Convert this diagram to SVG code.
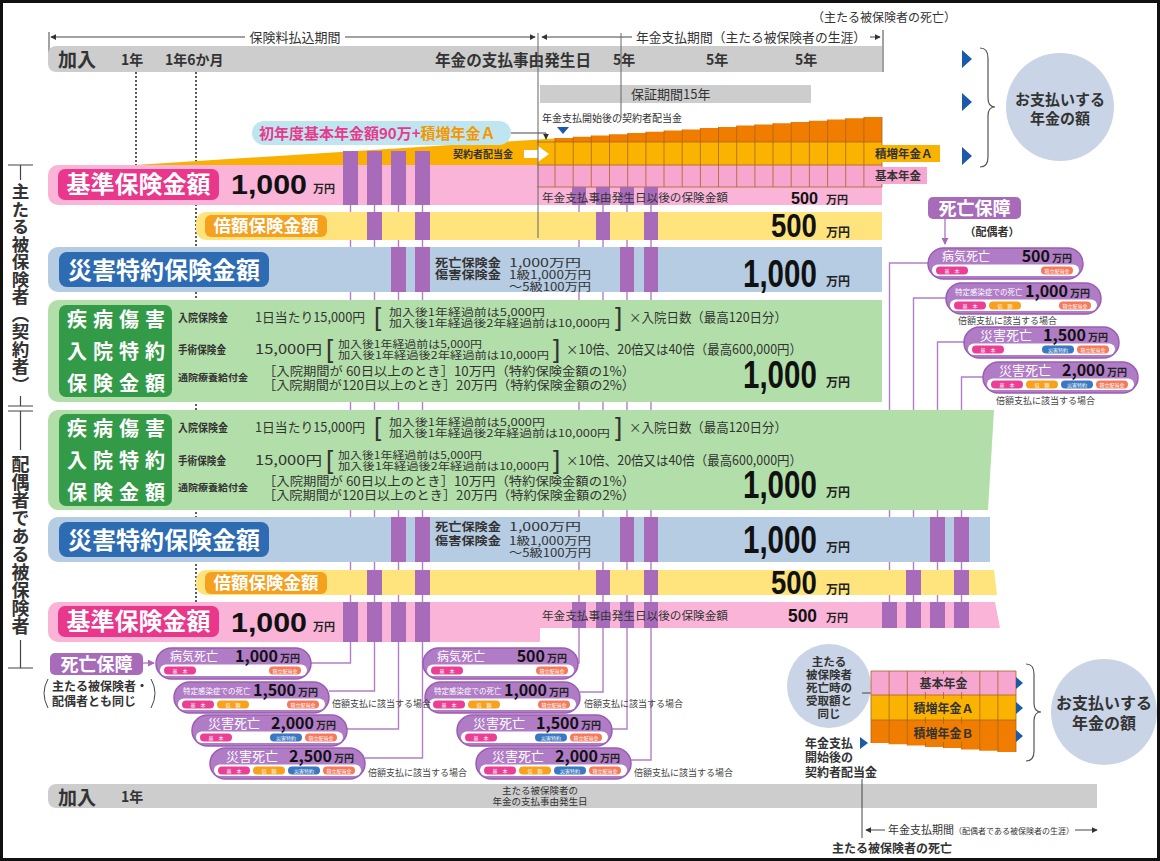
<svg xmlns="http://www.w3.org/2000/svg" width="1160" height="861" viewBox="0 0 1160 861">
<defs>
<style>
text{font-family:"Noto Sans CJK JP","Noto Sans",sans-serif;fill:#333}
.b{font-weight:700}
.w{fill:#fff}
.dim{stroke:#444;stroke-width:1;fill:none}
.dot{stroke:#333;stroke-width:1.6;stroke-dasharray:2 2;fill:none}
.cn{fill:none;stroke:#b27fc7;stroke-width:1.4}
.bar{fill:#a86bba}
.gray{fill:#cdcdcd}
.pinkrow{fill:#f9b4d8}
.yelrow{fill:#ffe47d}
.bluerow{fill:#b5cce3}
.grnrow{fill:#b2dfa9}
.tp{fill:#ea3f95}.to{fill:#f8a11c}.tb{fill:#3b78c2}.ts{fill:#f6795a}
.tt{font-size:5px;fill:#fff;text-anchor:middle}
.pl{font-size:12px;fill:#fff}
.pls{font-size:7.5px;fill:#fff}
.plb{font-size:13px;fill:#fff}
.amt{font-size:16px;font-weight:700;fill:#111;text-anchor:end}
.man{font-weight:700;fill:#222}
.note{font-size:9px;fill:#444}
.grid{stroke:#a8651f;stroke-width:0.8;fill:none}
.tri{fill:#1a5aa8}
.big{font-family:"Liberation Sans",Arial,sans-serif;font-weight:700;fill:#111}
.brk{font-family:"Liberation Sans",Arial,sans-serif;font-size:26px;fill:#333}
.circ{fill:#c9d4e6}
</style>
<marker id="ah" viewBox="0 0 8 8" refX="7" refY="4" markerWidth="6" markerHeight="6" orient="auto-start-reverse"><path d="M0,0 L8,4 L0,8 z" fill="#333"/></marker>
<marker id="ahp" viewBox="0 0 8 8" refX="7" refY="4" markerWidth="5" markerHeight="5" orient="auto"><path d="M0,0 L8,4 L0,8 z" fill="#a86bba"/></marker>
<g id="pill">
<rect x="0" y="0" width="155" height="31" rx="15.5" fill="#b07cc6" stroke="#9a5db2" stroke-width="1.5"/>
<rect x="4" y="16.5" width="147" height="11.5" rx="5.75" fill="#fff"/>
</g>
</defs>

<rect x="1.5" y="1.5" width="1157" height="858" fill="#fff" stroke="#111" stroke-width="3"/>

<!-- top timeline -->
<g id="timeline-top">
<text x="884" y="22" font-size="12" text-anchor="middle">（主たる被保険者の死亡）</text>
<path class="dim" d="M49,32 V62"/>
<path class="dim" d="M51,37 H245" marker-start="url(#ah)"/>
<path class="dim" d="M345,37 H535" marker-end="url(#ah)"/>
<text x="295" y="42" font-size="13" text-anchor="middle">保険料払込期間</text>
<path class="dim" d="M542,37 H632" marker-start="url(#ah)"/>
<path class="dim" d="M870,37 H880" marker-end="url(#ah)"/>
<text x="636" y="42" font-size="13" textLength="230" lengthAdjust="spacingAndGlyphs">年金支払期間（主たる被保険者の生涯）</text>
<path class="dim" d="M883,30 V72"/>
<path class="gray" d="M56,46 H882 V72 H56 A8,8 0 0 1 48,64 V54 A8,8 0 0 1 56,46 Z"/>
<text x="58" y="67" font-size="19" class="b">加入</text>
<text x="121" y="65" font-size="14" class="b">1年</text>
<text x="165" y="65" font-size="14" class="b">1年6か月</text>
<text x="435" y="66" font-size="15.5" class="b" textLength="156" lengthAdjust="spacingAndGlyphs">年金の支払事由発生日</text>
<text x="613" y="65" font-size="14" class="b">5年</text>
<text x="706" y="65" font-size="14" class="b">5年</text>
<text x="795" y="65" font-size="14" class="b">5年</text>
<rect x="540" y="85" width="271" height="18" class="gray"/>
<text x="631" y="99" font-size="13">保証期間15年</text>
<text x="542" y="122" font-size="10">年金支払開始後の契約者配当金</text>
<path class="tri" d="M557,127 H569 L563,134 Z"/>
</g>

<!-- dotted guides -->
<g id="guides">
<path class="dot" d="M136,72 V165"/>
<path class="dot" d="M196,72 V602"/>
</g>

<!-- connectors -->
<g id="connectors">
<path class="cn" d="M350.5,151 V663 H311"/>
<path class="cn" d="M374.5,151 V691 H329"/>
<path class="cn" d="M398.5,151 V729 H347"/>
<path class="cn" d="M422.5,151 V758 H365"/>
<path class="cn" d="M579,187 V663 H577"/>
<path class="cn" d="M603,187 V692 H580"/>
<path class="cn" d="M627,187 V729 H612"/>
<path class="cn" d="M651,187 V760 H631"/>
<path class="cn" d="M889.5,628 V263 H928"/>
<path class="cn" d="M913.5,628 V298 H946"/>
<path class="cn" d="M937.5,628 V342 H964"/>
<path class="cn" d="M961.5,628 V377 H983"/>
<path class="cn" d="M945,219 V244" marker-end="url(#ahp)"/>
<path class="cn" d="M143,663 H154" marker-end="url(#ahp)"/>
</g>

<!-- upper annuity graphic -->
<g id="annuity-upper">
<polygon points="135,165 555,138.5 555,165" fill="#f9b000"/>
<rect x="537" y="142" width="345" height="23" fill="#fab300"/>
<path fill="#f07d00" d="M555,142 V138 H573.2 V136.8 H591.3 V135.5 H609.5 V134.3 H627.7 V133.1 H645.9 V131.8 H664 V130.6 H682.2 V129.4 H700.4 V128.1 H718.5 V126.9 H736.7 V125.6 H754.9 V124.4 H773 V123.2 H791.2 V121.9 H809.4 V120.7 H827.6 V119.5 H845.7 V118.2 H863.9 V117 H882 V142 Z"/>
<rect id="cyanpill" x="252" y="121" width="259" height="24" rx="12" fill="#bfe6f0"/>
<text x="259" y="139" font-size="15" class="b"><tspan fill="#e8398c">初年度基本年金額90万</tspan><tspan fill="#e8398c">+</tspan><tspan fill="#f39800">積増年金Ａ</tspan></text>
<path class="dim" d="M511,133 H546 V139" marker-end="url(#ah)"/>
<text x="453" y="158" font-size="10" class="b">契約者配当金</text>
<path fill="#fff" d="M524,150 H538 V146 L549,154 L538,162 V158 H524 Z"/>
</g>

<!-- upper rows -->
<g id="kijun-upper">
<path class="pinkrow" d="M58,165 H882 V205 H58 A10,10 0 0 1 48,195 V175 A10,10 0 0 1 58,165 Z"/>
<rect x="537" y="165" width="345" height="22" fill="#f7a6cf"/>
<path class="grid" d="M537,142 H882 M537,165 H882 M537,187 H882 M555,138 V187 M573.2,136.8 V187 M591.3,135.5 V187 M609.5,134.3 V187 M627.7,133.1 V187 M645.9,131.8 V187 M664,130.6 V187 M682.2,129.4 V187 M700.4,128.1 V187 M718.5,126.9 V187 M736.7,125.6 V187 M754.9,124.4 V187 M773,123.2 V187 M791.2,121.9 V187 M809.4,120.7 V187 M827.6,119.5 V187 M845.7,118.2 V187 M863.9,117 V187 M882,117 V187"/>
<rect x="58" y="169" width="161" height="31" rx="7" fill="#e9378b"/>
<text x="138.5" y="193" font-size="24" class="w b" text-anchor="middle">基準保険金額</text>
<text x="231" y="194" font-size="28" class="big" textLength="76" lengthAdjust="spacingAndGlyphs">1,000</text>
<text x="313" y="193" class="man" font-size="11">万円</text>
<rect x="872" y="145" width="68" height="17" fill="#fab300"/>
<text x="875" y="158" font-size="11.5" class="b">積増年金Ａ</text>
<rect x="872" y="167" width="55" height="17" fill="#f7a6cf"/>
<text x="875" y="180" font-size="11.5" class="b">基本年金</text>
</g>

<g id="baigaku-upper">
<path class="yelrow" d="M206,212 H882 V240 H206 A10,10 0 0 1 196,230 V222 A10,10 0 0 1 206,212 Z"/>
<rect x="205" y="215" width="122" height="22" rx="6" fill="#f5a01f"/>
<text x="266" y="232" font-size="17.5" class="w b" text-anchor="middle">倍額保険金額</text>
<text transform="translate(771,237) scale(1,1.2)" font-size="27.5" class="big">500</text>
<text x="826" y="237" class="man" font-size="12">万円</text>
</g>

<g id="saigai-upper">
<path class="bluerow" d="M58,247 H882 V292 H58 A10,10 0 0 1 48,282 V257 A10,10 0 0 1 58,247 Z"/>
<rect x="59" y="252" width="210" height="35" rx="8" fill="#2d6bb3"/>
<text x="164" y="279" font-size="24" class="w b" text-anchor="middle">災害特約保険金額</text>
<text x="435" y="266.5" font-size="11.5" class="b"><tspan textLength="66" lengthAdjust="spacingAndGlyphs">死亡保険金</tspan><tspan x="435" dy="12.5" textLength="66" lengthAdjust="spacingAndGlyphs">傷害保険金</tspan></text>
<text x="509" y="266.5" font-size="11.5"><tspan textLength="72" lengthAdjust="spacingAndGlyphs">1,000万円</tspan><tspan x="509" dy="12.5" textLength="82" lengthAdjust="spacingAndGlyphs">1級1,000万円</tspan><tspan x="509" dy="11.5" textLength="82" lengthAdjust="spacingAndGlyphs">〜5級100万円</tspan></text>
<text transform="translate(743,287) scale(1,1.3)" font-size="29.5" class="big">1,000</text>
<text x="826" y="286" class="man" font-size="12">万円</text>
</g>

<g id="shippei-upper">
<path class="grnrow" d="M58,300 H882 V402 H58 A10,10 0 0 1 48,392 V310 A10,10 0 0 1 58,300 Z"/>
<rect x="59" y="305" width="113" height="92" rx="7" fill="#339a48"/>
<text x="67" y="327" font-size="20" class="w b" letter-spacing="6"><tspan>疾病傷害</tspan><tspan x="67" dy="32">入院特約</tspan><tspan x="67" dy="32">保険金額</tspan></text>
<text x="178" y="322" font-size="11" class="b" textLength="50" lengthAdjust="spacingAndGlyphs">入院保険金</text>
<text x="255" y="322" font-size="13" textLength="110" lengthAdjust="spacingAndGlyphs">1日当たり15,000円</text>
<text x="374" y="326" class="brk">[</text>
<text x="389" y="316" font-size="10"><tspan textLength="156" lengthAdjust="spacingAndGlyphs">加入後1年経過前は5,000円</tspan><tspan x="389" dy="11" textLength="221" lengthAdjust="spacingAndGlyphs">加入後1年経過後2年経過前は10,000円</tspan></text>
<text x="615" y="326" class="brk">]</text>
<text x="629" y="322" font-size="13" textLength="158" lengthAdjust="spacingAndGlyphs">×入院日数（最高120日分）</text>
<text x="178" y="354" font-size="11" class="b" textLength="48" lengthAdjust="spacingAndGlyphs">手術保険金</text>
<text x="255" y="354" font-size="13" textLength="67" lengthAdjust="spacingAndGlyphs">15,000円</text>
<text x="326" y="358" class="brk">[</text>
<text x="338" y="348" font-size="10"><tspan textLength="144" lengthAdjust="spacingAndGlyphs">加入後1年経過前は5,000円</tspan><tspan x="338" dy="11" textLength="211" lengthAdjust="spacingAndGlyphs">加入後1年経過後2年経過前は10,000円</tspan></text>
<text x="553" y="358" class="brk">]</text>
<text x="566" y="354" font-size="13" textLength="236" lengthAdjust="spacingAndGlyphs">×10倍、20倍又は40倍（最高600,000円）</text>
<text x="178" y="381" font-size="9.5" class="b" textLength="70" lengthAdjust="spacingAndGlyphs">通院療養給付金</text>
<text x="263" y="376" font-size="12.5"><tspan textLength="372" lengthAdjust="spacingAndGlyphs">［入院期間が 60日以上のとき］10万円（特約保険金額の1%）</tspan><tspan x="263" dy="14" textLength="372" lengthAdjust="spacingAndGlyphs">［入院期間が120日以上のとき］20万円（特約保険金額の2%）</tspan></text>
<text transform="translate(743,388) scale(1,1.3)" font-size="29.5" class="big">1,000</text>
<text x="826" y="387" class="man" font-size="12">万円</text>
</g>

<!-- lower rows -->
<g id="shippei-lower">
<path class="grnrow" d="M58,410 H994 L988,510 H58 A10,10 0 0 1 48,500 V420 A10,10 0 0 1 58,410 Z"/>
<rect x="59" y="414" width="113" height="92" rx="7" fill="#339a48"/>
<text x="67" y="436" font-size="20" class="w b" letter-spacing="6"><tspan>疾病傷害</tspan><tspan x="67" dy="32">入院特約</tspan><tspan x="67" dy="32">保険金額</tspan></text>
<text x="178" y="432" font-size="11" class="b" textLength="50" lengthAdjust="spacingAndGlyphs">入院保険金</text>
<text x="255" y="432" font-size="13" textLength="110" lengthAdjust="spacingAndGlyphs">1日当たり15,000円</text>
<text x="374" y="436" class="brk">[</text>
<text x="389" y="426" font-size="10"><tspan textLength="156" lengthAdjust="spacingAndGlyphs">加入後1年経過前は5,000円</tspan><tspan x="389" dy="11" textLength="221" lengthAdjust="spacingAndGlyphs">加入後1年経過後2年経過前は10,000円</tspan></text>
<text x="615" y="436" class="brk">]</text>
<text x="629" y="432" font-size="13" textLength="158" lengthAdjust="spacingAndGlyphs">×入院日数（最高120日分）</text>
<text x="178" y="465" font-size="11" class="b" textLength="48" lengthAdjust="spacingAndGlyphs">手術保険金</text>
<text x="255" y="465" font-size="13" textLength="67" lengthAdjust="spacingAndGlyphs">15,000円</text>
<text x="326" y="469" class="brk">[</text>
<text x="338" y="459" font-size="10"><tspan textLength="144" lengthAdjust="spacingAndGlyphs">加入後1年経過前は5,000円</tspan><tspan x="338" dy="11" textLength="211" lengthAdjust="spacingAndGlyphs">加入後1年経過後2年経過前は10,000円</tspan></text>
<text x="553" y="469" class="brk">]</text>
<text x="566" y="465" font-size="13" textLength="236" lengthAdjust="spacingAndGlyphs">×10倍、20倍又は40倍（最高600,000円）</text>
<text x="178" y="491" font-size="9.5" class="b" textLength="70" lengthAdjust="spacingAndGlyphs">通院療養給付金</text>
<text x="263" y="486" font-size="12.5"><tspan textLength="372" lengthAdjust="spacingAndGlyphs">［入院期間が 60日以上のとき］10万円（特約保険金額の1%）</tspan><tspan x="263" dy="14" textLength="372" lengthAdjust="spacingAndGlyphs">［入院期間が120日以上のとき］20万円（特約保険金額の2%）</tspan></text>
<text transform="translate(743,498) scale(1,1.3)" font-size="29.5" class="big">1,000</text>
<text x="826" y="497" class="man" font-size="12">万円</text>
</g>

<g id="saigai-lower">
<path class="bluerow" d="M58,517 H990 V562 H58 A10,10 0 0 1 48,552 V527 A10,10 0 0 1 58,517 Z"/>
<rect x="59" y="522" width="210" height="35" rx="8" fill="#2d6bb3"/>
<text x="164" y="549" font-size="24" class="w b" text-anchor="middle">災害特約保険金額</text>
<text x="435" y="531" font-size="11.5" class="b"><tspan textLength="66" lengthAdjust="spacingAndGlyphs">死亡保険金</tspan><tspan x="435" dy="14" textLength="66" lengthAdjust="spacingAndGlyphs">傷害保険金</tspan></text>
<text x="509" y="531" font-size="11.5"><tspan textLength="72" lengthAdjust="spacingAndGlyphs">1,000万円</tspan><tspan x="509" dy="14" textLength="82" lengthAdjust="spacingAndGlyphs">1級1,000万円</tspan><tspan x="509" dy="11.5" textLength="82" lengthAdjust="spacingAndGlyphs">〜5級100万円</tspan></text>
<text transform="translate(743,553) scale(1,1.3)" font-size="29.5" class="big">1,000</text>
<text x="826" y="552" class="man" font-size="12">万円</text>
</g>

<g id="baigaku-lower">
<path class="yelrow" d="M206,570 H994 L997,595 H206 A10,10 0 0 1 196,585 V580 A10,10 0 0 1 206,570 Z"/>
<rect x="205" y="572" width="122" height="22" rx="6" fill="#f5a01f"/>
<text x="266" y="589" font-size="17.5" class="w b" text-anchor="middle">倍額保険金額</text>
<text transform="translate(771,594) scale(1,1.2)" font-size="27.5" class="big">500</text>
<text x="826" y="594" class="man" font-size="12">万円</text>
</g>

<g id="kijun-lower">
<path class="pinkrow" d="M58,602 H995 L1000,628 H540 V642 H58 A10,10 0 0 1 48,632 V612 A10,10 0 0 1 58,602 Z"/>
<rect x="58" y="606" width="161" height="31" rx="7" fill="#e9378b"/>
<text x="138.5" y="630" font-size="24" class="w b" text-anchor="middle">基準保険金額</text>
<text x="231" y="632" font-size="28" class="big" textLength="76" lengthAdjust="spacingAndGlyphs">1,000</text>
<text x="313" y="631" class="man" font-size="11">万円</text>
</g>

<!-- purple bars -->
<g id="bars" class="bar">
<rect x="343" y="151" width="15" height="54"/><rect x="367" y="151" width="15" height="54"/><rect x="391" y="151" width="15" height="54"/><rect x="415" y="151" width="15" height="54"/>
<rect x="572" y="187" width="14" height="18"/><rect x="596" y="187" width="14" height="18"/><rect x="620" y="187" width="14" height="18"/><rect x="644" y="187" width="14" height="18"/>
<rect x="367" y="212" width="15" height="28"/><rect x="415" y="212" width="15" height="28"/><rect x="596" y="212" width="14" height="28"/><rect x="644" y="212" width="14" height="28"/>
<rect x="391" y="247" width="15" height="45"/><rect x="415" y="247" width="15" height="45"/><rect x="620" y="247" width="14" height="45"/><rect x="644" y="247" width="14" height="45"/>
<rect x="391" y="517" width="15" height="45"/><rect x="415" y="517" width="15" height="45"/><rect x="620" y="517" width="14" height="45"/><rect x="644" y="517" width="14" height="45"/><rect x="930" y="517" width="15" height="45"/><rect x="954" y="517" width="15" height="45"/>
<rect x="367" y="570" width="15" height="25"/><rect x="415" y="570" width="15" height="25"/><rect x="596" y="570" width="14" height="25"/><rect x="644" y="570" width="14" height="25"/><rect x="906" y="570" width="15" height="25"/><rect x="954" y="570" width="15" height="25"/>
<rect x="343" y="602" width="15" height="40"/><rect x="367" y="602" width="15" height="40"/><rect x="391" y="602" width="15" height="40"/><rect x="415" y="602" width="15" height="40"/>
<rect x="572" y="602" width="14" height="26"/><rect x="596" y="602" width="14" height="26"/><rect x="620" y="602" width="14" height="26"/><rect x="644" y="602" width="14" height="26"/>
<rect x="882" y="602" width="15" height="26"/><rect x="906" y="602" width="15" height="26"/><rect x="930" y="602" width="15" height="26"/><rect x="954" y="602" width="15" height="26"/>
</g>

<g id="post-annuity-labels">
<path d="M538,33 V238 M621,33 V118" stroke="#666" stroke-width="1" fill="none"/>
<text x="542" y="202" font-size="11.5" textLength="186" lengthAdjust="spacingAndGlyphs">年金支払事由発生日以後の保険金額</text>
<text x="791" y="204" font-size="17" class="big" textLength="27" lengthAdjust="spacingAndGlyphs">500</text>
<text x="826" y="204" class="man" font-size="11">万円</text>
<text x="542" y="620" font-size="11.5" textLength="186" lengthAdjust="spacingAndGlyphs">年金支払事由発生日以後の保険金額</text>
<text x="788" y="622" font-size="18" class="big" textLength="29" lengthAdjust="spacingAndGlyphs">500</text>
<text x="826" y="622" class="man" font-size="11">万円</text>
</g>

<!-- upper right summary -->
<g id="summary-upper">
<path class="tri" d="M962,50 L972,59 L962,68 Z M962,93 L972,102 L962,111 Z M962,147 L972,156 L962,165 Z"/>
<path d="M980,48 Q988,48 988,58 V98 Q988,107 995,107 Q988,107 988,116 V157 Q988,167 980,167" fill="none" stroke="#555" stroke-width="1.2"/>
<circle class="circ" cx="1060" cy="107" r="54"/>
<text x="1060" y="105" font-size="15" class="b" text-anchor="middle"><tspan>お支払いする</tspan><tspan x="1060" dy="19">年金の額</tspan></text>
</g>

<!-- side labels -->
<g id="side-labels">
<path d="M8,165 H33 M20.5,165 V180 M20.5,396 V406 M8,406 H33 M8,411 H33 M20.5,411 V450 M20.5,640 V668 M8,668 H33" stroke="#444" stroke-width="1.2" fill="none"/>
<text x="20.5" y="183" font-size="17.5" class="b" style="writing-mode:vertical-rl">主たる被保険者（契約者）</text>
<text x="20.5" y="455" font-size="18" class="b" style="writing-mode:vertical-rl">配偶者である被保険者</text>
</g>

<!-- death benefit headers -->
<g id="death-left-head">
<rect x="50" y="653" width="93" height="22" rx="5" fill="#a86bba"/>
<text x="96.5" y="671" font-size="18" class="w b" text-anchor="middle">死亡保障</text>
<path d="M48,679 Q40,693 48,708 M151,679 Q159,693 151,708" fill="none" stroke="#444" stroke-width="1"/>
<text x="52" y="691" font-size="12" class="b"><tspan>主たる被保険者・</tspan><tspan x="52" dy="15">配偶者とも同じ</tspan></text>
</g>
<g id="death-right-head">
<rect x="928" y="197" width="93" height="22" rx="5" fill="#a86bba"/>
<text x="974.5" y="215" font-size="18" class="w b" text-anchor="middle">死亡保障</text>
<text x="992" y="236" font-size="11" class="b" text-anchor="middle">（配偶者）</text>
</g>

<!-- death benefit pills: left -->
<g id="pL1" transform="translate(156,648)"><use href="#pill"/><text x="14" y="12.5" class="pl">病気死亡</text><text x="122" y="14" class="amt">1,000</text><text x="124" y="14" class="man" font-size="10">万円</text><rect class="tp" x="8" y="18.5" width="32" height="8" rx="4"/><text class="tt" x="24" y="24.5">基　本</text><rect class="ts" x="113" y="18.5" width="32" height="8" rx="4"/><text class="tt" x="129" y="24.5">積立配当金</text></g>
<g id="pL2" transform="translate(174,682)"><use href="#pill"/><text x="9" y="12" class="pls">特定感染症での死亡</text><text x="122" y="14" class="amt">1,500</text><text x="124" y="14" class="man" font-size="10">万円</text><rect class="tp" x="8" y="18.5" width="32" height="8" rx="4"/><text class="tt" x="24" y="24.5">基　本</text><rect class="to" x="43" y="18.5" width="32" height="8" rx="4"/><text class="tt" x="59" y="24.5">倍　額</text><rect class="ts" x="113" y="18.5" width="32" height="8" rx="4"/><text class="tt" x="129" y="24.5">積立配当金</text></g>
<g id="pL3" transform="translate(192,715)"><use href="#pill"/><text x="16" y="12.5" class="plb">災害死亡</text><text x="122" y="14" class="amt">2,000</text><text x="124" y="14" class="man" font-size="10">万円</text><rect class="tp" x="8" y="18.5" width="32" height="8" rx="4"/><text class="tt" x="24" y="24.5">基　本</text><rect class="tb" x="78" y="18.5" width="32" height="8" rx="4"/><text class="tt" x="94" y="24.5">災害特約</text><rect class="ts" x="113" y="18.5" width="32" height="8" rx="4"/><text class="tt" x="129" y="24.5">積立配当金</text></g>
<g id="pL4" transform="translate(210,748)"><use href="#pill"/><text x="16" y="12.5" class="plb">災害死亡</text><text x="122" y="14" class="amt">2,500</text><text x="124" y="14" class="man" font-size="10">万円</text><rect class="tp" x="8" y="18.5" width="32" height="8" rx="4"/><text class="tt" x="24" y="24.5">基　本</text><rect class="to" x="43" y="18.5" width="32" height="8" rx="4"/><text class="tt" x="59" y="24.5">倍　額</text><rect class="tb" x="78" y="18.5" width="32" height="8" rx="4"/><text class="tt" x="94" y="24.5">災害特約</text><rect class="ts" x="113" y="18.5" width="32" height="8" rx="4"/><text class="tt" x="129" y="24.5">積立配当金</text></g>

<!-- death benefit pills: middle -->
<g id="pM1" transform="translate(423,648)"><use href="#pill"/><text x="14" y="12.5" class="pl">病気死亡</text><text x="122" y="14" class="amt">500</text><text x="124" y="14" class="man" font-size="10">万円</text><rect class="tp" x="8" y="18.5" width="32" height="8" rx="4"/><text class="tt" x="24" y="24.5">基　本</text><rect class="ts" x="113" y="18.5" width="32" height="8" rx="4"/><text class="tt" x="129" y="24.5">積立配当金</text></g>
<g id="pM2" transform="translate(425,682)"><use href="#pill"/><text x="9" y="12" class="pls">特定感染症での死亡</text><text x="122" y="14" class="amt">1,000</text><text x="124" y="14" class="man" font-size="10">万円</text><rect class="tp" x="8" y="18.5" width="32" height="8" rx="4"/><text class="tt" x="24" y="24.5">基　本</text><rect class="to" x="43" y="18.5" width="32" height="8" rx="4"/><text class="tt" x="59" y="24.5">倍　額</text><rect class="ts" x="113" y="18.5" width="32" height="8" rx="4"/><text class="tt" x="129" y="24.5">積立配当金</text></g>
<g id="pM3" transform="translate(457,715)"><use href="#pill"/><text x="16" y="12.5" class="plb">災害死亡</text><text x="122" y="14" class="amt">1,500</text><text x="124" y="14" class="man" font-size="10">万円</text><rect class="tp" x="8" y="18.5" width="32" height="8" rx="4"/><text class="tt" x="24" y="24.5">基　本</text><rect class="tb" x="78" y="18.5" width="32" height="8" rx="4"/><text class="tt" x="94" y="24.5">災害特約</text><rect class="ts" x="113" y="18.5" width="32" height="8" rx="4"/><text class="tt" x="129" y="24.5">積立配当金</text></g>
<g id="pM4" transform="translate(476,748)"><use href="#pill"/><text x="16" y="12.5" class="plb">災害死亡</text><text x="122" y="14" class="amt">2,000</text><text x="124" y="14" class="man" font-size="10">万円</text><rect class="tp" x="8" y="18.5" width="32" height="8" rx="4"/><text class="tt" x="24" y="24.5">基　本</text><rect class="to" x="43" y="18.5" width="32" height="8" rx="4"/><text class="tt" x="59" y="24.5">倍　額</text><rect class="tb" x="78" y="18.5" width="32" height="8" rx="4"/><text class="tt" x="94" y="24.5">災害特約</text><rect class="ts" x="113" y="18.5" width="32" height="8" rx="4"/><text class="tt" x="129" y="24.5">積立配当金</text></g>

<!-- death benefit pills: right -->
<g id="pR1" transform="translate(928,248)"><use href="#pill"/><text x="14" y="12.5" class="pl">病気死亡</text><text x="122" y="14" class="amt">500</text><text x="124" y="14" class="man" font-size="10">万円</text><rect class="tp" x="8" y="18.5" width="32" height="8" rx="4"/><text class="tt" x="24" y="24.5">基　本</text><rect class="ts" x="113" y="18.5" width="32" height="8" rx="4"/><text class="tt" x="129" y="24.5">積立配当金</text></g>
<g id="pR2" transform="translate(946,283)"><use href="#pill"/><text x="9" y="12" class="pls">特定感染症での死亡</text><text x="122" y="14" class="amt">1,000</text><text x="124" y="14" class="man" font-size="10">万円</text><rect class="tp" x="8" y="18.5" width="32" height="8" rx="4"/><text class="tt" x="24" y="24.5">基　本</text><rect class="to" x="43" y="18.5" width="32" height="8" rx="4"/><text class="tt" x="59" y="24.5">倍　額</text><rect class="ts" x="113" y="18.5" width="32" height="8" rx="4"/><text class="tt" x="129" y="24.5">積立配当金</text></g>
<g id="pR3" transform="translate(964,327)"><use href="#pill"/><text x="16" y="12.5" class="plb">災害死亡</text><text x="122" y="14" class="amt">1,500</text><text x="124" y="14" class="man" font-size="10">万円</text><rect class="tp" x="8" y="18.5" width="32" height="8" rx="4"/><text class="tt" x="24" y="24.5">基　本</text><rect class="tb" x="78" y="18.5" width="32" height="8" rx="4"/><text class="tt" x="94" y="24.5">災害特約</text><rect class="ts" x="113" y="18.5" width="32" height="8" rx="4"/><text class="tt" x="129" y="24.5">積立配当金</text></g>
<g id="pR4" transform="translate(983,362)"><use href="#pill"/><text x="16" y="12.5" class="plb">災害死亡</text><text x="122" y="14" class="amt">2,000</text><text x="124" y="14" class="man" font-size="10">万円</text><rect class="tp" x="8" y="18.5" width="32" height="8" rx="4"/><text class="tt" x="24" y="24.5">基　本</text><rect class="to" x="43" y="18.5" width="32" height="8" rx="4"/><text class="tt" x="59" y="24.5">倍　額</text><rect class="tb" x="78" y="18.5" width="32" height="8" rx="4"/><text class="tt" x="94" y="24.5">災害特約</text><rect class="ts" x="113" y="18.5" width="32" height="8" rx="4"/><text class="tt" x="129" y="24.5">積立配当金</text></g>

<g id="double-notes">
<text x="332" y="707" class="note">倍額支払に該当する場合</text>
<text x="368" y="776" class="note">倍額支払に該当する場合</text>
<text x="584" y="707" class="note">倍額支払に該当する場合</text>
<text x="634" y="776" class="note">倍額支払に該当する場合</text>
<text x="958" y="324" class="note">倍額支払に該当する場合</text>
<text x="996" y="404" class="note">倍額支払に該当する場合</text>
</g>

<!-- lower right summary -->
<g id="summary-lower">
<circle class="circ" cx="829" cy="686" r="42"/>
<text x="829" y="666" font-size="11.5" class="b" text-anchor="middle"><tspan>主たる</tspan><tspan x="829" dy="13">被保険者</tspan><tspan x="829" dy="13">死亡時の</tspan><tspan x="829" dy="13">受取額と</tspan><tspan x="829" dy="13">同じ</tspan></text>
<path d="M862,693 H877 V716" fill="none" stroke="#444" stroke-width="1" marker-end="url(#ah)"/>
<rect x="871" y="671" width="145" height="24" fill="#f7a6cf"/>
<rect x="871" y="695" width="145" height="25" fill="#fab300"/>
<path fill="#f07d00" d="M871,720 H1016 V752 H997.9 V750.7 H979.8 V749.4 H961.6 V748.1 H943.5 V746.9 H925.4 V745.6 H907.3 V744.3 H889.1 V743 H871 Z"/>
<path class="grid" d="M871,671 H1016 M871,695 H1016 M871,720 H1016 M871,671 V743 M889.1,671 V744.3 M907.3,671 V745.6 M925.4,671 V746.9 M943.5,671 V748.1 M961.6,671 V749.4 M979.8,671 V750.7 M997.9,671 V752 M1016,671 V752"/>
<rect x="908" y="674" width="71" height="18" fill="#f7a6cf"/>
<text x="943.5" y="688" font-size="12" class="b" text-anchor="middle">基本年金</text>
<rect x="908" y="699" width="71" height="18" fill="#fab300"/>
<text x="943.5" y="713" font-size="12" class="b" text-anchor="middle">積増年金Ａ</text>
<rect x="908" y="724" width="71" height="18" fill="#f07d00"/>
<text x="943.5" y="738" font-size="12" class="b" text-anchor="middle">積増年金Ｂ</text>
<path class="tri" d="M1016,677 L1023,683 L1016,689 Z M1016,702 L1023,708 L1016,714 Z M1016,730 L1023,736 L1016,742 Z M860,737 L868,743 L860,749 Z"/>
<path d="M1026,664 Q1034,664 1034,674 V703 Q1034,712 1041,712 Q1034,712 1034,721 V751 Q1034,761 1026,761" fill="none" stroke="#555" stroke-width="1.2"/>
<circle class="circ" cx="1104" cy="712" r="53"/>
<text x="1104" y="709" font-size="16" class="b" text-anchor="middle"><tspan>お支払いする</tspan><tspan x="1104" dy="20">年金の額</tspan></text>
<text x="805" y="748" font-size="12" class="b"><tspan>年金支払</tspan><tspan x="805" dy="14">開始後の</tspan><tspan x="805" dy="15">契約者配当金</tspan></text>
</g>

<!-- bottom timeline -->
<g id="timeline-bottom">
<path class="gray" d="M56,784 H1097 V808 H56 A8,8 0 0 1 48,800 V792 A8,8 0 0 1 56,784 Z"/>
<text x="58" y="805" font-size="19" class="b">加入</text>
<text x="121" y="802" font-size="14" class="b">1年</text>
<text x="540" y="794" font-size="9.5" text-anchor="middle"><tspan>主たる被保険者の</tspan><tspan x="540" dy="11">年金の支払事由発生日</tspan></text>
<path class="dim" d="M862,779 V838"/>
<path class="dim" d="M866,830 H885" marker-start="url(#ah)"/>
<path class="dim" d="M1075,830 H1097" marker-end="url(#ah)"/>
<text x="888" y="834" font-size="11"><tspan>年金支払期間</tspan><tspan font-size="8">（配偶者である被保険者の生涯）</tspan></text>
<text x="892" y="853" font-size="12" class="b" text-anchor="middle">主たる被保険者の死亡</text>
</g>
</svg>
